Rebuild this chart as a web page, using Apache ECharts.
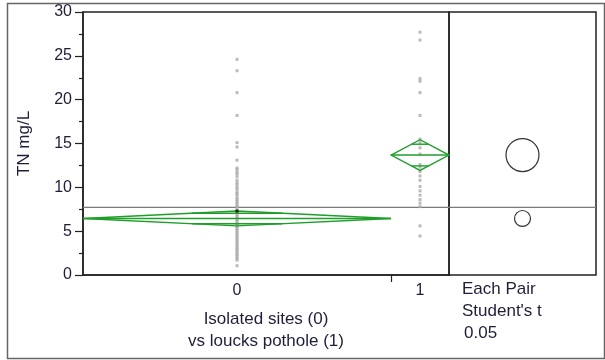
<!DOCTYPE html>
<html><head><meta charset="utf-8">
<script src="https://cdn.jsdelivr.net/npm/echarts@6/dist/echarts.min.js"></script>
<style>html,body{margin:0;padding:0;background:#fff}#c{width:605px;height:360px}</style>
</head><body><div id="c"></div>
<script>
// ---- data ----
const categories = ['0', '1'];
const groupWidths = [1, 0.188];          // relative widths of the group bands on the x scale
const group0 = [24.6, 23.3, 20.8, 18.2, 15.1, 14.6, 13.1, 12.2, 12.0, 11.7, 11.5, 11.2, 10.8, 10.5, 10.3, 10.0,
  9.8, 9.5, 9.3, 9.1, 8.8, 8.6, 8.4, 8.2, 8.0, 7.8, 7.6, 7.1, 6.9, 6.7, 6.5, 6.3, 6.1, 5.9, 5.7, 5.5,
  5.3, 5.1, 4.9, 4.7, 4.5, 4.3, 4.1, 3.9, 3.7, 3.5, 3.3, 3.1, 2.9, 2.7, 2.5, 2.3, 2.1, 1.9, 1.7, 1.06];
const group1 = [27.7, 26.8, 22.4, 22.1, 20.8, 18.2, 15.5, 15.1, 14.5, 13.8, 12.6, 12.3, 11.8, 11.3, 10.8,
  10.1, 9.6, 9.1, 8.6, 8.2, 7.8, 5.6, 4.45];
const selected0 = [7.3];                 // highlighted (black) point in group 0
const means = [6.45, 13.68];
const ciHalf = [0.85, 1.75];
const circleRadii = [0.91, 1.88];
const grandMean = 7.72;
const yTickLabels = ['0', '5', '10', '15', '20', '25', '30'];
const yName = 'TN mg/L';
const xName = 'Isolated sites (0)\nvs loucks pothole (1)';
const testLabel = ['Each Pair', "Student's t", '0.05'];

// ---- derived scale positions ----
const lefts = [], centers = [];
let acc = -0.5;
groupWidths.forEach(w => { lefts.push(acc); centers.push(acc + w / 2); acc += w; });
const xMin = -0.5, xMax = acc;
const boundary = lefts[1];

const txt = '#1e1e3a';
const font = 'Liberation Sans, Arial, sans-serif';
const green = '#1f9e2a';

const chart = echarts.init(document.getElementById('c'), null, { renderer: 'canvas' });

function diamond(params, api) {
  const i = params.dataIndex;
  const l = lefts[i], w = groupWidths[i], r = l + w, c = l + w / 2;
  const m = means[i], h = ciHalf[i], o = h / Math.SQRT2;
  const hw = (w / 2) * (1 - o / h);
  const st = { stroke: green, fill: null, lineWidth: 1.4 };
  const line = (a, b) => ({ type: 'line', shape: { x1: a[0], y1: a[1], x2: b[0], y2: b[1] }, style: st });
  return {
    type: 'group', children: [
      { type: 'polygon', shape: { points: [api.coord([l, m]), api.coord([c, m + h]), api.coord([r, m]), api.coord([c, m - h])] }, style: st },
      line(api.coord([l, m]), api.coord([r, m])),
      line(api.coord([c - hw, m + o]), api.coord([c + hw, m + o])),
      line(api.coord([c - hw, m - o]), api.coord([c + hw, m - o]))
    ]
  };
}

function meanLine(x0, x1) {
  return function (params, api) {
    const a = api.coord([x0, api.value(0)]), b = api.coord([x1, api.value(0)]);
    return { type: 'line', shape: { x1: a[0], y1: a[1], x2: b[0], y2: b[1] }, style: { stroke: '#7a7a7a', lineWidth: 1.2 } };
  };
}

const option = {
  animation: false,
  backgroundColor: '#fff',
  grid: [
    { left: 83, top: 12, width: 366, height: 263, show: true, borderColor: '#222', borderWidth: 1.5, backgroundColor: 'transparent' },
    { left: 449, top: 12, width: 147, height: 263, show: true, borderColor: '#222', borderWidth: 1.5, backgroundColor: 'transparent' }
  ],
  xAxis: [
    {
      gridIndex: 0, type: 'value', min: xMin, max: xMax,
      axisLine: { show: true, onZero: false, lineStyle: { color: '#222', width: 1.5 } },
      splitLine: { show: false },
      axisTick: { show: true, customValues: [boundary], length: 7, lineStyle: { color: '#222', width: 1.2 } },
      axisLabel: {
        show: true, customValues: centers, fontSize: 16, fontFamily: font, color: txt, margin: 8,
        formatter: v => { let k = 0; centers.forEach((c, i) => { if (Math.abs(c - v) < Math.abs(centers[k] - v)) k = i; }); return categories[k]; }
      },
      name: xName, nameLocation: 'middle', nameGap: 33,
      nameTextStyle: { fontSize: 17, fontFamily: font, color: txt, lineHeight: 22, verticalAlign: 'top' }
    },
    { gridIndex: 1, type: 'value', min: 0, max: 1, show: false }
  ],
  yAxis: [
    {
      gridIndex: 0, type: 'value', min: 0, max: 30, interval: 5,
      axisLine: { show: true, onZero: false, lineStyle: { color: '#222', width: 1.5 } },
      axisTick: { show: true, length: 8, lineStyle: { color: '#222', width: 1.2 } },
      minorTick: { show: true, splitNumber: 2, length: 4, lineStyle: { color: '#222', width: 1.2 } },
      splitLine: { show: false },
      axisLabel: { fontSize: 16, fontFamily: font, color: txt, margin: 11, formatter: v => yTickLabels[Math.round(v / 5)] },
      name: yName, nameLocation: 'middle', nameGap: 50, nameRotate: 90,
      nameTextStyle: { fontSize: 17, fontFamily: font, color: txt }
    },
    { gridIndex: 1, type: 'value', min: 0, max: 30, show: false }
  ],
  series: [
    {
      type: 'custom', xAxisIndex: 0, yAxisIndex: 0, clip: false, silent: true, z: 1,
      renderItem: meanLine(xMin, xMax), data: [[grandMean]]
    },
    {
      type: 'custom', xAxisIndex: 1, yAxisIndex: 1, clip: false, silent: true, z: 1,
      renderItem: meanLine(0, 1), data: [[grandMean]]
    },
    {
      type: 'scatter', xAxisIndex: 0, yAxisIndex: 0, symbol: 'rect', symbolSize: 3, silent: true, z: 2,
      itemStyle: { color: '#aaaaaa' },
      data: group0.map(v => [centers[0], v]).concat(group1.map(v => [centers[1], v]))
    },
    {
      type: 'scatter', xAxisIndex: 0, yAxisIndex: 0, symbol: 'rect', symbolSize: 3, silent: true, z: 4,
      itemStyle: { color: '#000' },
      data: selected0.map(v => [centers[0], v])
    },
    {
      type: 'custom', xAxisIndex: 0, yAxisIndex: 0, clip: false, silent: true, z: 3,
      renderItem: diamond, data: means.map((m, i) => [centers[i], m])
    },
    {
      type: 'custom', xAxisIndex: 1, yAxisIndex: 1, clip: false, silent: true, z: 3,
      renderItem: (params, api) => {
        const c = api.coord([0.5, api.value(0)]);
        const r = api.size([0, api.value(1)])[1];
        return { type: 'circle', shape: { cx: c[0], cy: c[1], r: r }, style: { stroke: '#333', fill: null, lineWidth: 1.2 } };
      },
      data: means.map((m, i) => [m, circleRadii[i]])
    }
  ],
  graphic: [
    { type: 'rect', left: 5, top: 1, shape: { width: 597, height: 355 }, style: { stroke: '#666', fill: null, lineWidth: 1.5 }, z: 10 },
    { type: 'text', left: 462, top: 281, style: { text: testLabel[0], fontSize: 17, fontFamily: font, fill: txt } },
    { type: 'text', left: 462, top: 303, style: { text: testLabel[1], fontSize: 17, fontFamily: font, fill: txt } },
    { type: 'text', left: 464, top: 325, style: { text: testLabel[2], fontSize: 17, fontFamily: font, fill: txt } }
  ]
};
chart.setOption(option);
</script>
</body></html>
